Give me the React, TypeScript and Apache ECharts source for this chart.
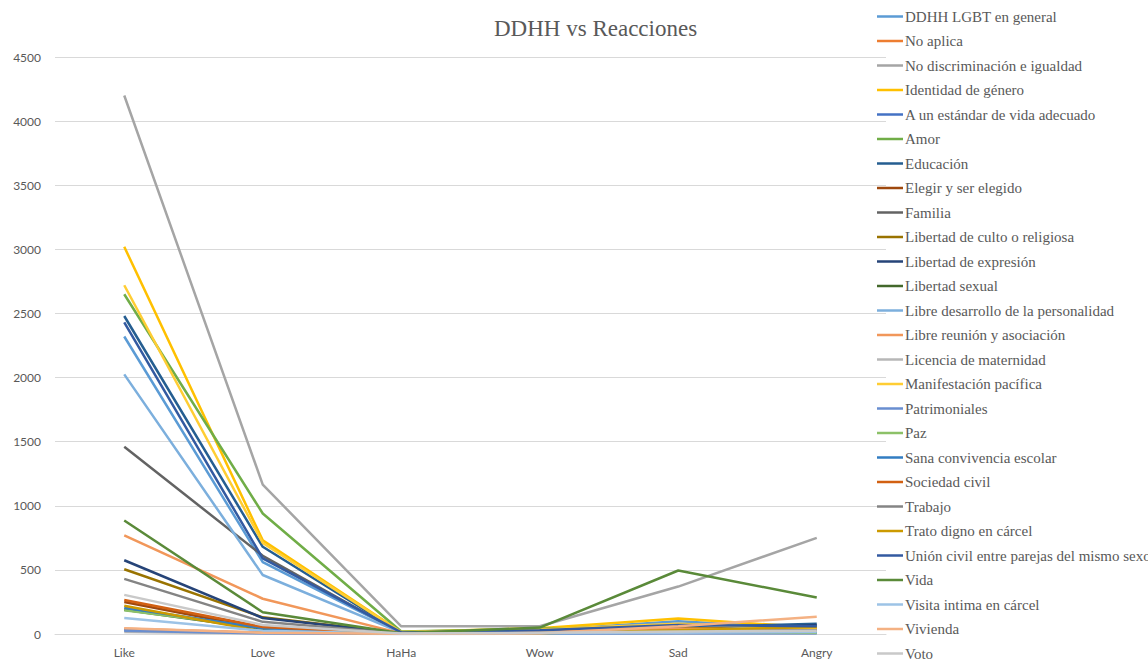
import React, { useEffect, useRef } from "react";
import * as echarts from "echarts";

const categories = ["Like", "Love", "HaHa", "Wow", "Sad", "Angry"];
const yTicks = [0, 500, 1000, 1500, 2000, 2500, 3000, 3500, 4000, 4500];

const seriesNames = [
  "DDHH LGBT en general",
  "No aplica",
  "No discriminación e igualdad",
  "Identidad de género",
  "A un estándar de vida adecuado",
  "Amor",
  "Educación",
  "Elegir y ser elegido",
  "Familia",
  "Libertad de culto o religiosa",
  "Libertad de expresión",
  "Libertad sexual",
  "Libre desarrollo de la personalidad",
  "Libre reunión y asociación",
  "Licencia de maternidad",
  "Manifestación pacífica",
  "Patrimoniales",
  "Paz",
  "Sana convivencia escolar",
  "Sociedad civil",
  "Trabajo",
  "Trato digno en cárcel",
  "Unión civil entre parejas del mismo sexo",
  "Vida",
  "Visita intima en cárcel",
  "Vivienda",
  "Voto",
];

const colors = [
  "#5B9BD5", "#ED7D31", "#A5A5A5", "#FFC000", "#4472C4", "#70AD47",
  "#255E91", "#9E480E", "#636363", "#997300", "#264478", "#43682B",
  "#7CAFDD", "#F1975A", "#B7B7B7", "#FFCD33", "#698ED0", "#8CC168",
  "#327DC2", "#D26012", "#848484", "#CC9A00", "#335AA1", "#5A8A39",
  "#9DC3E6", "#F4B183", "#C9C9C9",
];

const ddhhLgbt = [2320, 560, 10, 30, 100, 40];
const noAplica = [40, 10, 2, 5, 20, 15];
const noDiscriminacion = [4200, 1165, 60, 60, 370, 750];
const identidadGenero = [3020, 730, 15, 45, 120, 50];
const estandarVida = [30, 8, 1, 3, 10, 10];
const amor = [2650, 940, 20, 40, 60, 30];
const educacion = [2480, 680, 10, 30, 50, 80];
const elegir = [250, 40, 2, 5, 15, 20];
const familia = [1460, 610, 8, 25, 40, 45];
const libCulto = [505, 130, 5, 10, 40, 60];
const libExpresion = [575, 125, 5, 10, 20, 70];
const libSexual = [190, 40, 3, 5, 10, 15];
const libreDesarrollo = [2025, 460, 10, 25, 80, 30];
const libreReunion = [770, 275, 5, 15, 40, 35];
const licencia = [15, 5, 0, 2, 5, 3];
const manifestacion = [2720, 710, 15, 35, 80, 40];
const patrimoniales = [25, 5, 0, 2, 5, 5];
const paz = [185, 50, 2, 8, 20, 10];
const sanaConvivencia = [205, 45, 2, 6, 15, 20];
const sociedadCivil = [265, 55, 3, 8, 20, 25];
const trabajo = [430, 95, 4, 10, 25, 30];
const tratoDigno = [220, 20, 2, 5, 30, 55];
const unionCivil = [2430, 590, 12, 30, 70, 60];
const vida = [885, 170, 5, 50, 495, 285];
const visitaIntima = [125, 25, 1, 5, 10, 15];
const vivienda = [45, 10, 2, 5, 60, 135];
const voto = [305, 70, 3, 10, 20, 25];

const seriesValues = [
  ddhhLgbt, noAplica, noDiscriminacion, identidadGenero, estandarVida, amor,
  educacion, elegir, familia, libCulto, libExpresion, libSexual,
  libreDesarrollo, libreReunion, licencia, manifestacion, patrimoniales, paz,
  sanaConvivencia, sociedadCivil, trabajo, tratoDigno, unionCivil, vida,
  visitaIntima, vivienda, voto,
];

const serif = "'Liberation Serif', 'Times New Roman', serif";
const sans = "Lato, 'Liberation Sans', sans-serif";

export default function App() {
  const ref = useRef<HTMLDivElement>(null);
  useEffect(() => {
    if (!ref.current) return;
    const chart = echarts.init(ref.current, undefined, { renderer: "svg" });
    chart.setOption({
      animation: false,
      backgroundColor: "#ffffff",
      color: colors,
      title: {
        text: "DDHH vs Reacciones",
        left: 489,
        top: 12,
        textStyle: {
          fontFamily: serif,
          fontSize: 23,
          fontWeight: "normal",
          color: "#595959",
        },
      },
      legend: {
        orient: "vertical",
        left: 877,
        top: 9,
        bottom: 0,
        padding: 0,
        itemWidth: 26,
        itemHeight: 15,
        itemGap: 9.5,
        icon: "path://M0,6 L26,6 L26,8.5 L0,8.5 Z",
        textStyle: {
          fontFamily: serif,
          fontSize: 15,
          color: "#595959",
          padding: [0, 0, 0, -3],
        },
        data: seriesNames,
      },
      grid: { left: 55, right: 262, top: 57, bottom: 29, containLabel: false },
      xAxis: {
        type: "category",
        data: categories,
        boundaryGap: true,
        axisLine: { lineStyle: { color: "#D9D9D9", width: 1 } },
        axisTick: { show: false },
        axisLabel: {
          fontFamily: sans,
          fontSize: 12,
          color: "#595959",
          margin: 12,
        },
      },
      yAxis: {
        type: "value",
        min: yTicks[0],
        max: yTicks[yTicks.length - 1],
        interval: 500,
        axisLine: { show: false },
        axisTick: { show: false },
        splitLine: { lineStyle: { color: "#D9D9D9", width: 1 } },
        axisLabel: {
          fontFamily: sans,
          fontSize: 12,
          color: "#595959",
          margin: 14,
          formatter: (v: number) => String(v),
        },
      },
      series: seriesNames.map((name, i) => ({
        name,
        type: "line",
        data: seriesValues[i],
        showSymbol: false,
        symbol: "none",
        lineStyle: { width: 2.5, color: colors[i] },
        itemStyle: { color: colors[i] },
      })),
    });
    return () => chart.dispose();
  }, []);
  return (
    <div
      ref={ref}
      style={{ position: "fixed", left: 0, top: 0, width: 1148, height: 663 }}
    />
  );
}
